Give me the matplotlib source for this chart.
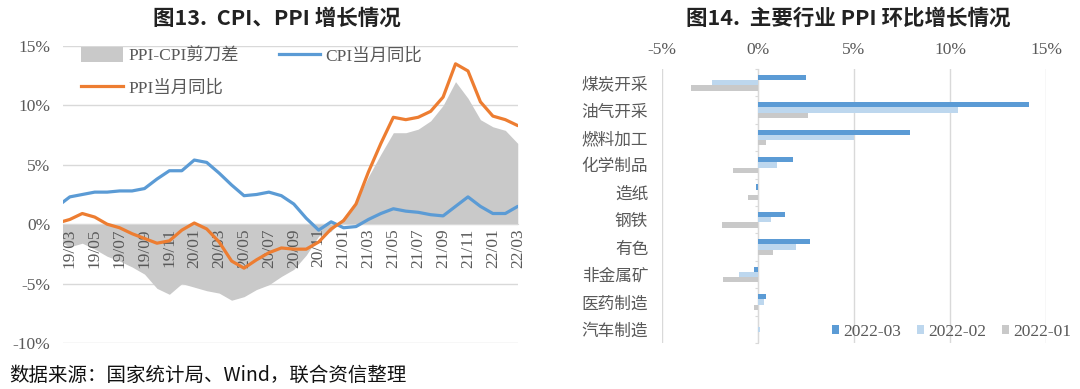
import numpy as np
import matplotlib
matplotlib.use('Agg')
import matplotlib.pyplot as plt
from matplotlib.patches import Patch
from matplotlib.lines import Line2D

plt.rcParams['font.family'] = ['Liberation Serif', 'Noto Sans CJK SC']

# 左图：CPI / PPI 当月同比（19/02 - 22/03）
months = [f'{y:02d}/{m:02d}' for y in (19, 20, 21, 22) for m in range(1, 13)][1:39]
cpi = [1.5, 2.3, 2.5, 2.7, 2.7, 2.8, 2.8, 3.0, 3.8, 4.5, 4.5,
       5.4, 5.2, 4.3, 3.3, 2.4, 2.5, 2.7, 2.4, 1.7, 0.5, -0.5, 0.2,
       -0.3, -0.2, 0.4, 0.9, 1.3, 1.1, 1.0, 0.8, 0.7, 1.5, 2.3, 1.5,
       0.9, 0.9, 1.5]
ppi = [0.1, 0.4, 0.9, 0.6, 0.0, -0.3, -0.8, -1.2, -1.6, -1.4, -0.5,
       0.1, -0.4, -1.5, -3.1, -3.7, -3.0, -2.4, -2.0, -2.1, -2.1, -1.5, -0.4,
       0.3, 1.7, 4.4, 6.8, 9.0, 8.8, 9.0, 9.5, 10.7, 13.5, 12.9, 10.3,
       9.1, 8.8, 8.3]

# 右图：主要行业 PPI 环比
industries = ['煤炭开采', '油气开采', '燃料加工', '化学制品', '造纸',
              '钢铁', '有色', '非金属矿', '医药制造', '汽车制造']
m2203 = [2.5, 14.1, 7.9, 1.8, -0.1, 1.4, 2.7, -0.2, 0.4, 0.0]
m2202 = [-2.4, 10.4, 5.0, 1.0, 0.0, 0.7, 2.0, -1.0, 0.3, 0.1]
m2201 = [-3.5, 2.6, 0.4, -1.3, -0.5, -1.9, 0.8, -1.8, -0.2, 0.0]
series_names = ['2022-03', '2022-02', '2022-01']

BLUE = '#5b9bd5'
ORANGE = '#ed7d31'
GRAY = '#c9c9c9'
LBLUE = '#bdd7ee'
GRID = '#d9d9d9'
TXT = '#595959'
FS = 12.5

W, H = 1080, 389
fig = plt.figure(figsize=(W / 100, H / 100), dpi=100)

def box(x0, x1, y0, y1):
    return [x0 / W, 1 - y1 / H, (x1 - x0) / W, (y1 - y0) / H]

# ---------------- 左图 ----------------
ax1 = fig.add_axes(box(63, 518, 46, 343))
x = np.arange(len(months))
gap = np.array(ppi) - np.array(cpi)
ax1.fill_between(x, 0, gap, color=GRAY, lw=0, zorder=1)
ax1.plot(x, cpi, color=BLUE, lw=2.3, zorder=3, solid_capstyle='round')
ax1.plot(x, ppi, color=ORANGE, lw=2.3, zorder=3, solid_capstyle='round')
ax1.set_xlim(0.45, 37.02)
ax1.set_ylim(-10, 15)
ax1.set_yticks([-10, -5, 0, 5, 10, 15])
ax1.set_yticklabels(['-10%', '-5%', '0%', '5%', '10%', '15%'])
ax1.yaxis.grid(True, color=GRID, lw=1)
ax1.set_axisbelow(True)
ax1.xaxis.set_zorder(2)   # 月份标签压在剪刀差面积上
for s in ['top', 'right', 'left']:
    ax1.spines[s].set_visible(False)
ax1.spines['bottom'].set_position(('data', 0))
ax1.spines['bottom'].set_color(GRID)
ax1.spines['bottom'].set_zorder(2)
ax1.set_xticks(x[1::2])
ax1.set_xticklabels(months[1::2], rotation=90)
ax1.tick_params(axis='x', length=0, pad=3, labelsize=FS, labelcolor=TXT)
ax1.tick_params(axis='y', length=0, pad=9, labelsize=FS, labelcolor=TXT)

handles = [Patch(color=GRAY, lw=0),
           Line2D([], [], color=ORANGE, lw=2.3),
           Line2D([], [], color=BLUE, lw=2.3)]
labels = ['PPI-CPI剪刀差', 'PPI当月同比', 'CPI当月同比']
leg = ax1.legend(handles, labels, ncol=2, loc='upper left',
                 bbox_to_anchor=(0.04, 0.995), frameon=False, fontsize=FS,
                 handlelength=2.4, handleheight=0.9, handletextpad=0.3,
                 columnspacing=2.3, labelspacing=0.85, borderpad=0, borderaxespad=0)
for t in leg.get_texts():
    t.set_color(TXT)

# ---------------- 右图 ----------------
ax2 = fig.add_axes(box(662, 1046, 69, 343))
y = np.arange(len(industries))
h = 0.19
ax2.barh(y - h, m2203, height=h, color=BLUE, zorder=3)
ax2.barh(y, m2202, height=h, color=LBLUE, zorder=3)
ax2.barh(y + h, m2201, height=h, color=GRAY, zorder=3)
ax2.set_ylim(len(industries) - 0.5, -0.5)
ax2.set_xlim(-5, 15)
ax2.set_xticks([-5, 0, 5, 10, 15])
ax2.set_xticklabels(['-5%', '0%', '5%', '10%', '15%'])
ax2.xaxis.tick_top()
ax2.xaxis.grid(True, color=GRID, lw=1)
ax2.set_axisbelow(True)
for s in ax2.spines.values():
    s.set_visible(False)
ax2.set_yticks(y)
ax2.set_yticklabels(industries, family=['Noto Sans CJK SC'])
ax2.tick_params(axis='x', length=0, pad=8, labelsize=FS, labelcolor=TXT)
ax2.tick_params(axis='y', length=0, pad=10, labelsize=FS - 0.5, labelcolor=TXT)

sec = ax2.secondary_yaxis(0.25)
sec.set_yticks(np.arange(len(industries) + 1) - 0.5)
sec.set_yticklabels([])
sec.tick_params(length=2.5, color=GRID)
sec.spines['left'].set_color(GRID)

lh = [Patch(color=c, lw=0) for c in (BLUE, LBLUE, GRAY)]
leg2 = fig.legend(lh, series_names, ncol=3, loc='center right',
                  bbox_to_anchor=(1071 / W, 1 - 332 / H), frameon=False, fontsize=FS,
                  handlelength=0.4, handleheight=0.4, handletextpad=0.25,
                  columnspacing=0.9, borderpad=0, borderaxespad=0)
for t in leg2.get_texts():
    t.set_color(TXT)

# 标题与来源
fig.text(277 / W, 1 - 18 / H, '图13.  CPI、PPI 增长情况', ha='center', va='center',
         fontsize=15.5, fontweight='bold', family=['Noto Sans CJK SC'], color='#222222')
fig.text(848 / W, 1 - 18 / H, '图14.  主要行业 PPI 环比增长情况', ha='center', va='center',
         fontsize=15.5, fontweight='bold', family=['Noto Sans CJK SC'], color='#222222')
fig.text(9 / W, 1 - 375 / H, '数据来源：国家统计局、Wind，联合资信整理', ha='left', va='center',
         fontsize=14, family=['Noto Sans CJK SC'], color='#111111')

fig.savefig('out.png', dpi=100, facecolor='white')
